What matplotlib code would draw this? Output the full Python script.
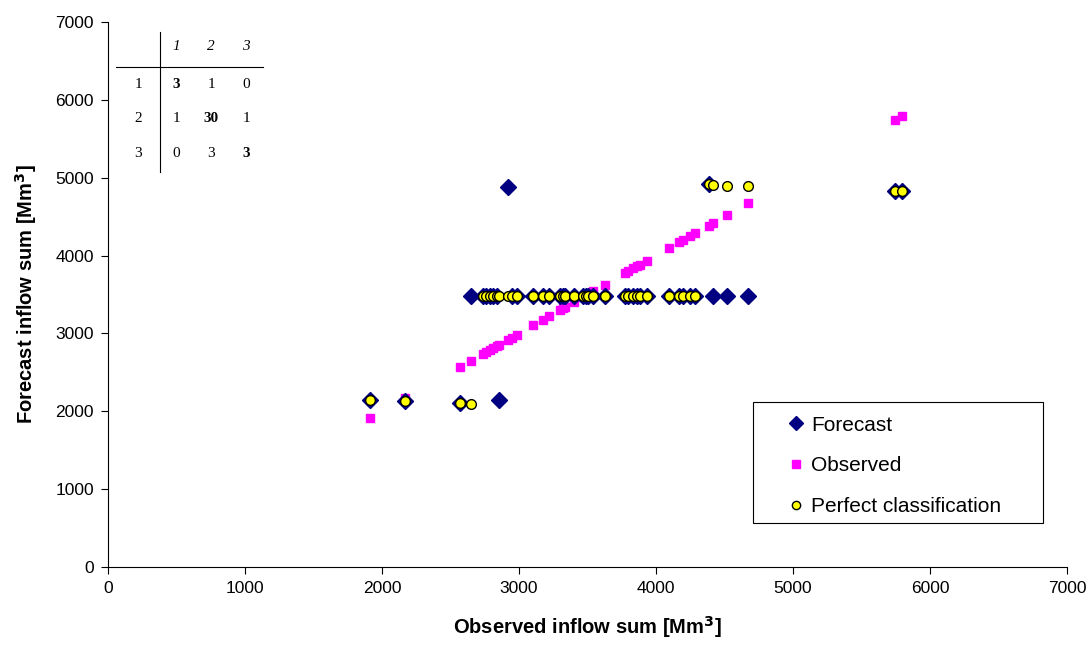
import numpy as np
import matplotlib.pyplot as plt
from matplotlib.lines import Line2D
from matplotlib.patches import Rectangle

plt.rcParams['font.family'] = ['Liberation Sans', 'DejaVu Sans']

# observed inflow sums (class 1, class 2, class 3)
observed = [1910, 2170, 2570, 2650,
            2740, 2760, 2790, 2812, 2836, 2855, 2922, 2946, 2982, 3104, 3172,
            3221, 3299, 3324, 3336, 3401, 3470, 3490, 3506, 3542, 3628, 3774,
            3798, 3835, 3860, 3883, 3932, 4097, 4170, 4200, 4248, 4285,
            4385, 4413, 4520, 4674, 5745, 5798]
forecast = [2150, 2130, 2110, 3475,
            3475, 3475, 3475, 3475, 3475, 2140, 4880, 3475, 3475, 3475, 3475,
            3475, 3475, 3475, 3475, 3475, 3475, 3475, 3475, 3475, 3475, 3475,
            3475, 3475, 3475, 3475, 3475, 3475, 3475, 3475, 3475, 3475,
            4915, 3475, 3475, 3475, 4830, 4830]
perfect = [2150, 2130, 2110, 2100] + [3475] * 32 + [4915, 4910, 4900, 4893, 4830, 4830]

# contingency table (rows observed, columns forecast)
classes = ['1', '2', '3']
table = [[3, 1, 0],
         [1, 30, 1],
         [0, 3, 3]]

fig = plt.figure(figsize=(10.91, 6.48), dpi=100)
ax = fig.add_axes([0.099, 0.125, 0.879, 0.841])

ax.plot(observed, forecast, 'D', color='#000080', markersize=8.5, label='Forecast', zorder=3)
ax.plot(observed, observed, 's', color='#FF00FF', markersize=6, label='Observed', zorder=2)
ax.plot(observed, perfect, 'o', markerfacecolor='#FFFF00', markeredgecolor='black',
        markeredgewidth=1.0, markersize=7, label='Perfect classification', zorder=4)

ax.set_xlim(0, 7000)
ax.set_ylim(0, 7000)
ax.set_xticks(np.arange(0, 7001, 1000))
ax.set_yticks(np.arange(0, 7001, 1000))
ax.tick_params(direction='out', length=5, labelsize=12.5, pad=5)
ax.spines['top'].set_visible(False)
ax.spines['right'].set_visible(False)
ax.set_xlabel('Observed inflow sum [Mm$^\\mathbf{3}$]', fontsize=14.5, fontweight='bold', labelpad=13)
ax.set_ylabel('Forecast inflow sum [Mm$^\\mathbf{3}$]', fontsize=14.5, fontweight='bold', labelpad=12)

# legend box drawn separately so the padding matches
ax.add_patch(Rectangle((0.6726, 0.0807), 0.3024, 0.2221, transform=ax.transAxes,
                       facecolor='white', edgecolor='black', lw=0.8, zorder=5, clip_on=False))
leg = ax.legend(loc='center left', bbox_to_anchor=(0.707, 0.1855), frameon=False,
                fontsize=15, labelspacing=1.05, borderpad=0, handletextpad=0.2,
                handlelength=1.0, borderaxespad=0, markerscale=0.85)
leg.set_zorder(6)

# small contingency table in the upper left corner
W, H = 1091.0, 648.0
fig.add_artist(Line2D([160 / W, 160 / W], [1 - 32 / H, 1 - 172 / H], color='black', lw=0.8))
fig.add_artist(Line2D([116 / W, 263 / W], [1 - 67 / H, 1 - 67 / H], color='black', lw=0.8))
col_x = [176, 211, 246]
row_y = [84, 119, 154]
for j, c in enumerate(classes):
    fig.text(col_x[j] / W, 1 - 47 / H, c, family='Liberation Serif', style='italic',
             fontsize=11, ha='center', va='center')
for i, r in enumerate(classes):
    fig.text(138 / W, 1 - row_y[i] / H, r, family='Liberation Serif', fontsize=11,
             ha='center', va='center')
    for j in range(3):
        fig.text(col_x[j] / W, 1 - row_y[i] / H, str(table[i][j]), family='Liberation Serif',
                 fontsize=11, ha='center', va='center',
                 fontweight='bold' if i == j else 'normal')

fig.savefig('out.png', dpi=100)
